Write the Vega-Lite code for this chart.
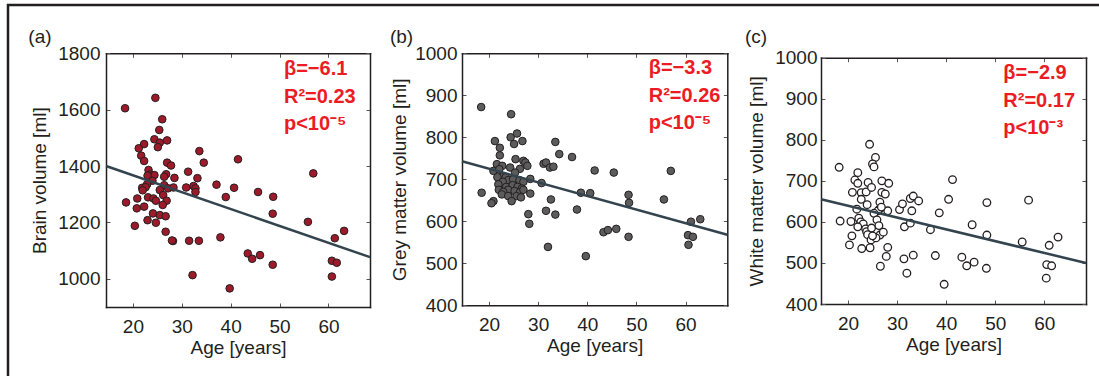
{
  "$schema": "https://vega.github.io/schema/vega-lite/v6.json",
  "width": 1096,
  "height": 378,
  "autosize": "none",
  "padding": {"left": 8, "top": 5, "right": -5, "bottom": -7},
  "background": "white",
  "config": {
    "view": {"stroke": "#231f20", "strokeWidth": 2.5},
    "axis": {
      "grid": false,
      "format": "d",
      "labelFont": "Liberation Sans",
      "labelFontSize": 19,
      "labelColor": "#231f20",
      "titleFont": "Liberation Sans",
      "titleFontSize": 19,
      "titleFontWeight": "normal",
      "titleColor": "#231f20",
      "domainColor": "#231f20",
      "domainWidth": 1.5,
      "domainCap": "square",
      "tickColor": "#555555",
      "tickSize": -4,
      "tickWidth": 1,
      "labelPadding": 10
    },
    "text": {"font": "Liberation Sans"}
  },
  "datasets": {
    "brain": [
      {"age":18.4,"vol":1605},{"age":18.6,"vol":1271},{"age":24.6,"vol":1642},{"age":26.0,"vol":1566},{"age":25.4,"vol":1528},
      {"age":24.4,"vol":1495},{"age":25.5,"vol":1483},{"age":27.0,"vol":1491},{"age":25.1,"vol":1467},{"age":22.3,"vol":1478},
      {"age":21.2,"vol":1463},{"age":21.7,"vol":1437},{"age":22.3,"vol":1418},{"age":33.6,"vol":1453},{"age":34.5,"vol":1412},
      {"age":41.5,"vol":1424},{"age":27.0,"vol":1412},{"age":27.8,"vol":1402},{"age":23.2,"vol":1386},{"age":23.5,"vol":1370},
      {"age":24.4,"vol":1368},{"age":23.0,"vol":1366},{"age":24.0,"vol":1348},{"age":26.8,"vol":1371},{"age":26.4,"vol":1362},
      {"age":28.5,"vol":1358},{"age":31.3,"vol":1380},{"age":33.2,"vol":1357},{"age":37.1,"vol":1334},{"age":40.7,"vol":1323},
      {"age":56.9,"vol":1374},{"age":22.9,"vol":1335},{"age":21.9,"vol":1323},{"age":22.6,"vol":1325},{"age":22.0,"vol":1314},
      {"age":26.4,"vol":1332},{"age":27.2,"vol":1321},{"age":28.3,"vol":1324},{"age":25.5,"vol":1315},{"age":26.2,"vol":1297},
      {"age":30.9,"vol":1324},{"age":32.4,"vol":1329},{"age":32.8,"vol":1321},{"age":32.8,"vol":1308},{"age":20.9,"vol":1285},
      {"age":23.1,"vol":1289},{"age":24.2,"vol":1285},{"age":24.7,"vol":1277},{"age":26.9,"vol":1277},{"age":20.8,"vol":1250},
      {"age":22.3,"vol":1256},{"age":26.1,"vol":1262},{"age":24.1,"vol":1232},{"age":25.5,"vol":1226},{"age":26.7,"vol":1222},
      {"age":23.0,"vol":1208},{"age":24.7,"vol":1199},{"age":20.4,"vol":1188},{"age":26.7,"vol":1167},{"age":28.2,"vol":1134},
      {"age":28.0,"vol":1136},{"age":31.5,"vol":1135},{"age":33.5,"vol":1135},{"age":37.9,"vol":1147},{"age":39.0,"vol":1290},
      {"age":45.6,"vol":1308},{"age":48.7,"vol":1291},{"age":48.6,"vol":1231},{"age":55.8,"vol":1202},{"age":32.2,"vol":1013},
      {"age":39.8,"vol":966},{"age":43.5,"vol":1090},{"age":44.4,"vol":1071},{"age":46.0,"vol":1084},{"age":48.6,"vol":1050},
      {"age":61.3,"vol":1144},{"age":63.2,"vol":1170},{"age":60.7,"vol":1064},{"age":61.7,"vol":1057},{"age":60.7,"vol":1008}
    ],
    "grey": [
      {"age":18.4,"vol":872},{"age":18.5,"vol":668},{"age":24.5,"vol":855},{"age":25.7,"vol":809},{"age":24.4,"vol":800},
      {"age":26.8,"vol":791},{"age":21.2,"vol":791},{"age":25.1,"vol":784},{"age":22.2,"vol":775},{"age":22.2,"vol":757},
      {"age":33.5,"vol":789},{"age":34.3,"vol":760},{"age":25.4,"vol":748},{"age":27.0,"vol":744},{"age":27.4,"vol":740},
      {"age":21.6,"vol":736},{"age":22.7,"vol":732},{"age":24.3,"vol":728},{"age":26.3,"vol":725},{"age":27.8,"vol":732},
      {"age":31.1,"vol":737},{"age":31.6,"vol":740},{"age":32.4,"vol":728},{"age":33.1,"vol":730},{"age":20.9,"vol":720},
      {"age":22.1,"vol":724},{"age":25.3,"vol":716},{"age":22.6,"vol":706},{"age":21.7,"vol":705},{"age":23.4,"vol":705},
      {"age":23.9,"vol":698},{"age":24.9,"vol":700},{"age":26.2,"vol":698},{"age":27.0,"vol":694},{"age":28.4,"vol":701},
      {"age":30.7,"vol":691},{"age":22.8,"vol":694},{"age":21.9,"vol":688},{"age":23.5,"vol":682},{"age":24.8,"vol":686},
      {"age":25.8,"vol":682},{"age":26.7,"vol":678},{"age":22.0,"vol":675},{"age":23.9,"vol":675},{"age":22.9,"vol":670},
      {"age":25.2,"vol":672},{"age":26.3,"vol":669},{"age":27.0,"vol":675},{"age":28.4,"vol":666},{"age":22.6,"vol":664},
      {"age":23.9,"vol":660},{"age":25.6,"vol":660},{"age":26.5,"vol":657},{"age":24.6,"vol":648},{"age":20.9,"vol":648},
      {"age":20.5,"vol":643},{"age":32.6,"vol":652},{"age":28.0,"vol":617},{"age":28.2,"vol":594},{"age":31.6,"vol":625},
      {"age":33.5,"vol":616},{"age":32.0,"vol":539},{"age":36.9,"vol":753},{"age":41.5,"vol":721},{"age":45.4,"vol":716},
      {"age":38.7,"vol":668},{"age":40.6,"vol":667},{"age":37.9,"vol":628},{"age":39.7,"vol":517},{"age":43.3,"vol":574},
      {"age":44.2,"vol":579},{"age":45.9,"vol":582},{"age":48.4,"vol":663},{"age":48.5,"vol":644},{"age":48.4,"vol":563},
      {"age":55.6,"vol":652},{"age":57.0,"vol":720},{"age":61.1,"vol":599},{"age":60.5,"vol":567},{"age":61.5,"vol":563},
      {"age":60.6,"vol":544},{"age":63.0,"vol":605}
    ],
    "white": [
      {"age":18.2,"vol":733},{"age":18.4,"vol":602},{"age":24.4,"vol":789},{"age":25.6,"vol":757},{"age":25.0,"vol":741},
      {"age":25.3,"vol":734},{"age":22.0,"vol":720},{"age":21.4,"vol":702},{"age":22.0,"vol":694},{"age":24.1,"vol":696},
      {"age":26.9,"vol":700},{"age":28.3,"vol":694},{"age":20.9,"vol":672},{"age":22.7,"vol":671},{"age":23.7,"vol":673},
      {"age":24.8,"vol":684},{"age":26.9,"vol":672},{"age":27.6,"vol":668},{"age":22.7,"vol":655},{"age":23.9,"vol":642},
      {"age":26.5,"vol":648},{"age":26.4,"vol":631},{"age":28.1,"vol":627},{"age":21.8,"vol":631},{"age":26.1,"vol":627},
      {"age":25.3,"vol":621},{"age":25.9,"vol":605},{"age":20.6,"vol":601},{"age":22.2,"vol":609},{"age":22.6,"vol":600},
      {"age":23.1,"vol":595},{"age":22.0,"vol":588},{"age":23.6,"vol":583},{"age":23.8,"vol":576},{"age":24.8,"vol":585},
      {"age":26.3,"vol":591},{"age":26.5,"vol":568},{"age":27.2,"vol":575},{"age":24.0,"vol":569},{"age":24.7,"vol":556},
      {"age":25.7,"vol":561},{"age":24.5,"vol":537},{"age":22.8,"vol":535},{"age":20.8,"vol":566},{"age":20.3,"vol":544},
      {"age":28.1,"vol":538},{"age":27.8,"vol":516},{"age":26.6,"vol":492},{"age":30.5,"vol":630},{"age":31.1,"vol":644},
      {"age":31.5,"vol":588},{"age":31.4,"vol":510},{"age":32.0,"vol":475},{"age":32.7,"vol":657},{"age":33.3,"vol":663},
      {"age":34.4,"vol":651},{"age":33.0,"vol":627},{"age":32.7,"vol":597},{"age":33.3,"vol":519},{"age":36.8,"vol":581},
      {"age":37.8,"vol":518},{"age":38.6,"vol":622},{"age":39.6,"vol":448},{"age":40.5,"vol":655},{"age":41.3,"vol":703},
      {"age":43.2,"vol":514},{"age":44.2,"vol":493},{"age":45.3,"vol":593},{"age":45.7,"vol":502},{"age":48.3,"vol":647},
      {"age":48.3,"vol":568},{"age":48.2,"vol":487},{"age":55.5,"vol":551},{"age":56.8,"vol":653},{"age":60.5,"vol":496},
      {"age":61.5,"vol":493},{"age":60.4,"vol":463},{"age":61.0,"vol":543},{"age":62.8,"vol":563},{"age":25.0,"vol":566},
      {"age":26.8,"vol":636}
    ],
    "fitA": [{"age":14.5,"vol":1400},{"age":68.5,"vol":1077}],
    "fitB": [{"age":14.5,"vol":743},{"age":68.5,"vol":568}],
    "fitC": [{"age":14.5,"vol":655},{"age":68.5,"vol":500}],
    "one": [{"k":1}]
  },
  "layer": [
    {
      "layer": [
        {
          "data": {"name": "brain"},
          "mark": {"type": "point", "shape": "circle", "filled": true, "size": 58, "fill": "#9d1a2b", "stroke": "#231f20", "strokeWidth": 1, "opacity": 1},
          "encoding": {
            "x": {"field": "age", "type": "quantitative",
              "scale": {"domain": [14.5, 68.5], "range": [98, 362], "nice": false, "zero": false},
              "axis": {"orient": "bottom", "offset": -76, "values": [20, 30, 40, 50, 60], "title": "Age [years]", "labelPadding": 14, "titlePadding": 2}},
            "y": {"field": "vol", "type": "quantitative",
              "scale": {"domain": [900, 1800], "range": [302, 48.3], "nice": false, "zero": false},
              "axis": {"orient": "left", "offset": -98, "values": [1000, 1200, 1400, 1600, 1800], "title": "Brain volume [ml]", "titlePadding": 8}}
          }
        },
        {
          "data": {"name": "fitA"},
          "mark": {"type": "line", "color": "#34444f", "strokeWidth": 2.5},
          "encoding": {
            "x": {"field": "age", "type": "quantitative", "axis": {"orient": "top", "offset": -48.3, "values": [20, 30, 40, 50, 60], "labels": false, "title": null}},
            "y": {"field": "vol", "type": "quantitative", "axis": {"orient": "right", "offset": -734, "values": [1000, 1200, 1400, 1600, 1800], "labels": false, "title": null}}
          }
        },
        {
          "data": {"name": "one"},
          "mark": {"type": "text", "text": ["β=−6.1", "R²=0.23", "p<10⁻⁵"], "fontWeight": "bold", "fontSize": 20, "color": "#ec1c24", "align": "left", "baseline": "alphabetic", "lineHeight": 27.5},
          "encoding": {
            "x": {"datum": 50.9, "type": "quantitative", "axis": null},
            "y": {"datum": 1723, "type": "quantitative", "axis": null}
          }
        },
        {
          "data": {"name": "one"},
          "mark": {"type": "text", "text": "(a)", "fontSize": 19, "color": "#231f20", "align": "left", "baseline": "alphabetic"},
          "encoding": {
            "x": {"datum": -1.39, "type": "quantitative", "axis": null},
            "y": {"datum": 1836, "type": "quantitative", "axis": null}
          }
        }
      ],
      "resolve": {"axis": {"x": "independent", "y": "independent"}}
    },
    {
      "layer": [
        {
          "data": {"name": "grey"},
          "mark": {"type": "point", "shape": "circle", "filled": true, "size": 58, "fill": "#5c5c5c", "stroke": "#231f20", "strokeWidth": 1, "opacity": 1},
          "encoding": {
            "x": {"field": "age", "type": "quantitative",
              "scale": {"domain": [14.5, 68.5], "range": [454, 719.3], "nice": false, "zero": false},
              "axis": {"orient": "bottom", "offset": -77.7, "values": [20, 30, 40, 50, 60], "title": "Age [years]", "labelPadding": 14, "titlePadding": 2}},
            "y": {"field": "vol", "type": "quantitative",
              "scale": {"domain": [400, 1000], "range": [300.3, 48.3], "nice": false, "zero": false},
              "axis": {"orient": "left", "offset": -454, "values": [400, 500, 600, 700, 800, 900, 1000], "title": "Grey matter volume [ml]", "labelPadding": 9, "titlePadding": 5}}
          }
        },
        {
          "data": {"name": "fitB"},
          "mark": {"type": "line", "color": "#34444f", "strokeWidth": 2.5},
          "encoding": {
            "x": {"field": "age", "type": "quantitative", "axis": {"orient": "top", "offset": -48.3, "values": [20, 30, 40, 50, 60], "labels": false, "title": null}},
            "y": {"field": "vol", "type": "quantitative", "axis": {"orient": "right", "offset": -376.7, "values": [400, 500, 600, 700, 800, 900, 1000], "labels": false, "title": null}}
          }
        },
        {
          "data": {"name": "one"},
          "mark": {"type": "text", "text": ["β=−3.3", "R²=0.26", "p<10⁻⁵"], "fontWeight": "bold", "fontSize": 20, "color": "#ec1c24", "align": "left", "baseline": "alphabetic", "lineHeight": 27.5},
          "encoding": {
            "x": {"datum": 52.5, "type": "quantitative", "axis": null},
            "y": {"datum": 950.7, "type": "quantitative", "axis": null}
          }
        },
        {
          "data": {"name": "one"},
          "mark": {"type": "text", "text": "(b)", "fontSize": 19, "color": "#231f20", "align": "left", "baseline": "alphabetic"},
          "encoding": {
            "x": {"datum": -0.17, "type": "quantitative", "axis": null},
            "y": {"datum": 1023.8, "type": "quantitative", "axis": null}
          }
        }
      ],
      "resolve": {"axis": {"x": "independent", "y": "independent"}}
    },
    {
      "layer": [
        {
          "data": {"name": "white"},
          "mark": {"type": "point", "shape": "circle", "filled": true, "size": 58, "fill": "#ffffff", "stroke": "#231f20", "strokeWidth": 1.3, "opacity": 1},
          "encoding": {
            "x": {"field": "age", "type": "quantitative",
              "scale": {"domain": [14.5, 68.5], "range": [813, 1078], "nice": false, "zero": false},
              "axis": {"orient": "bottom", "offset": -79, "values": [20, 30, 40, 50, 60], "title": "Age [years]", "labelPadding": 14, "titlePadding": 2}},
            "y": {"field": "vol", "type": "quantitative",
              "scale": {"domain": [400, 1000], "range": [299, 52.7], "nice": false, "zero": false},
              "axis": {"orient": "left", "offset": -813, "values": [400, 500, 600, 700, 800, 900, 1000], "title": "White matter volume [ml]", "labelPadding": 8, "titlePadding": 8}}
          }
        },
        {
          "data": {"name": "fitC"},
          "mark": {"type": "line", "color": "#34444f", "strokeWidth": 2.5},
          "encoding": {
            "x": {"field": "age", "type": "quantitative", "axis": {"orient": "top", "offset": -52.7, "values": [20, 30, 40, 50, 60], "labels": false, "title": null}},
            "y": {"field": "vol", "type": "quantitative", "axis": {"orient": "right", "offset": -18, "values": [400, 500, 600, 700, 800, 900, 1000], "labels": false, "title": null}}
          }
        },
        {
          "data": {"name": "one"},
          "mark": {"type": "text", "text": ["β=−2.9", "R²=0.17", "p<10⁻³"], "fontWeight": "bold", "fontSize": 20, "color": "#ec1c24", "align": "left", "baseline": "alphabetic", "lineHeight": 27.5},
          "encoding": {
            "x": {"datum": 51.65, "type": "quantitative", "axis": null},
            "y": {"datum": 947.4, "type": "quantitative", "axis": null}
          }
        },
        {
          "data": {"name": "one"},
          "mark": {"type": "text", "text": "(c)", "fontSize": 19, "color": "#231f20", "align": "left", "baseline": "alphabetic"},
          "encoding": {
            "x": {"datum": -1.0, "type": "quantitative", "axis": null},
            "y": {"datum": 1036.5, "type": "quantitative", "axis": null}
          }
        }
      ],
      "resolve": {"axis": {"x": "independent", "y": "independent"}}
    }
  ],
  "resolve": {
    "scale": {"x": "independent", "y": "independent"},
    "axis": {"x": "independent", "y": "independent"}
  }
}
